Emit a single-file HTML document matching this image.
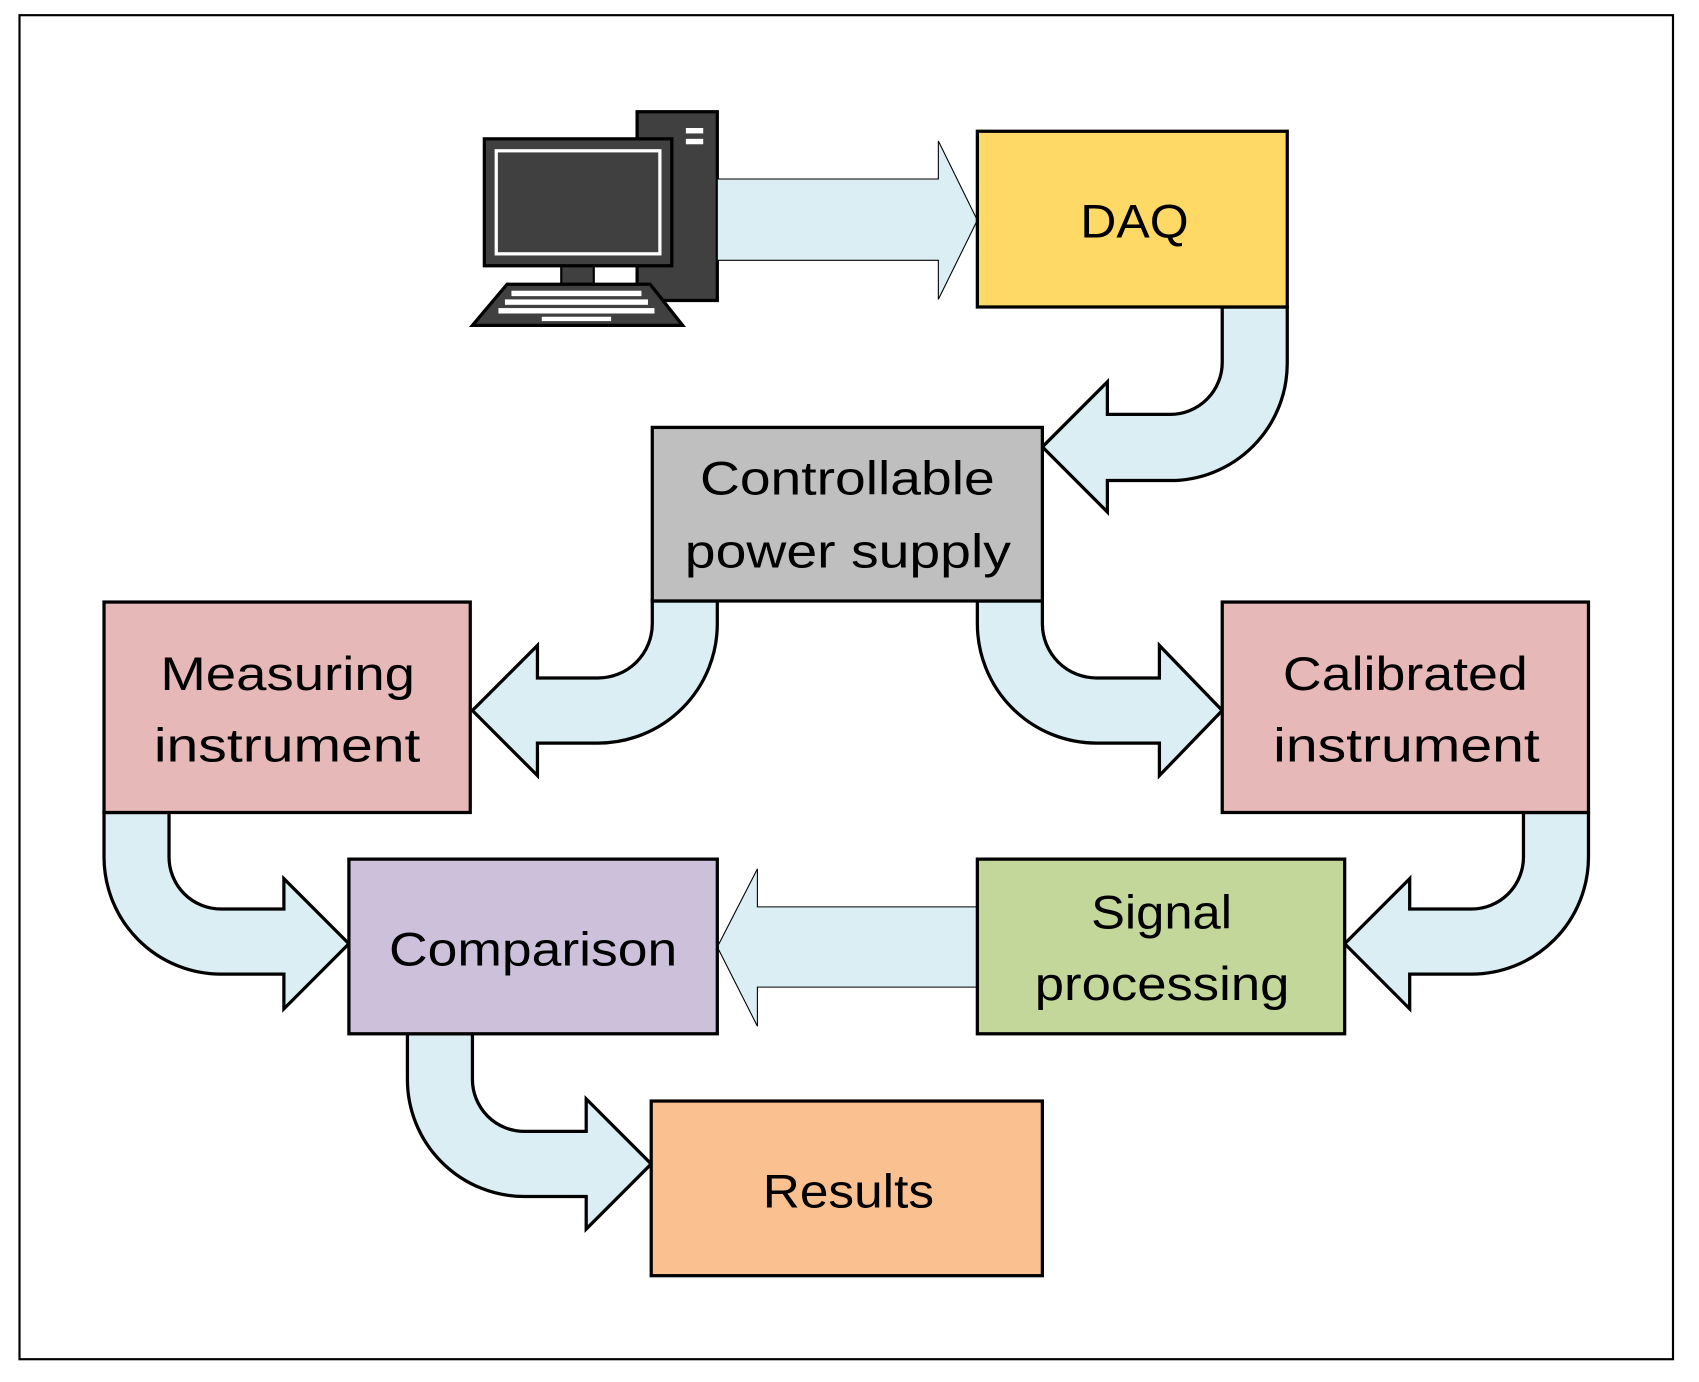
<!DOCTYPE html>
<html><head><style>html,body{margin:0;padding:0;background:#fff}svg{display:block}</style></head>
<body>
<svg width="1699" height="1382" viewBox="0 0 1568 1274" preserveAspectRatio="none" xmlns="http://www.w3.org/2000/svg">
<rect x="18" y="14" width="1526" height="1239" fill="#fff" stroke="#000" stroke-width="2"/>
<!-- computer -->
<rect x="588" y="103" width="74" height="174" fill="#404040" stroke="#000" stroke-width="3"/>
<rect x="633" y="118" width="16" height="5" fill="#fff"/>
<rect x="633" y="128" width="16" height="5" fill="#fff"/>
<rect x="518" y="243" width="30" height="20" fill="#404040" stroke="#000" stroke-width="2"/>
<rect x="447" y="128" width="173" height="117" fill="#404040" stroke="#000" stroke-width="3"/>
<rect x="458" y="139" width="151" height="95" fill="#404040" stroke="#fff" stroke-width="3"/>
<polygon points="468,262 600,262 630,300 436,300" fill="#404040" stroke="#000" stroke-width="3"/>
<g fill="#fff">
<rect x="472" y="268" width="120" height="5"/>
<rect x="466" y="276" width="132" height="5"/>
<rect x="460" y="284" width="144" height="5"/>
<rect x="500" y="292" width="64" height="4"/>
</g>
<!-- arrows -->
<g fill="#DAEEF3" stroke="#000" stroke-width="3" stroke-linejoin="miter">
<path d="M662,165 L866,165 L866,130 L902,203 L866,276 L866,240 L662,240 Z" stroke-width="1"/>
<path d="M902,836 L699,836 L699,801 L662,873 L699,946 L699,910 L902,910 Z" stroke-width="1"/>
<path d="M1188,283 L1188,335 A108,108 0 0 1 1080,443 L1022,443 L1022,472 L962,412 L1022,352 L1022,382 L1080,382 A48,48 0 0 0 1128,334 L1128,283 Z"/>
<path d="M662,554 L662,575 A110,110 0 0 1 552,685 L496,685 L496,715 L436,655 L496,595 L496,625 L552,625 A50,50 0 0 0 602,575 L602,554 Z"/>
<path d="M902,554 L902,575 A110,110 0 0 0 1012,685 L1070,685 L1070,715 L1128,655 L1070,595 L1070,625 L1012,625 A50,50 0 0 1 962,575 L962,554 Z"/>
<path d="M96,749 L96,790 A108,108 0 0 0 204,898 L262,898 L262,930 L322,870 L262,810 L262,838 L204,838 A48,48 0 0 1 156,790 L156,749 Z"/>
<path d="M1466,749 L1466,790 A108,108 0 0 1 1358,898 L1301,898 L1301,930 L1241,870 L1301,810 L1301,838 L1358,838 A48,48 0 0 0 1406,790 L1406,749 Z"/>
<path d="M376,953 L376,995 A108,108 0 0 0 484,1103 L541,1103 L541,1133 L601,1073 L541,1013 L541,1043 L484,1043 A48,48 0 0 1 436,995 L436,953 Z"/>
</g>
<!-- boxes -->
<g stroke="#000" stroke-width="3">
<rect x="902" y="121" width="286" height="162" fill="#FFD966"/>
<rect x="602" y="394" width="360" height="160" fill="#BFBFBF"/>
<rect x="96" y="555" width="338" height="194" fill="#E6B8B7"/>
<rect x="1128" y="555" width="338" height="194" fill="#E6B8B7"/>
<rect x="322" y="792" width="340" height="161" fill="#CCC0DA"/>
<rect x="902" y="792" width="339" height="161" fill="#C4D79B"/>
<rect x="601" y="1015" width="361" height="161" fill="#FAC090"/>
</g>
<g font-family="'Liberation Sans', sans-serif" font-size="44" fill="#000">
<text x="997" y="219" textLength="100" lengthAdjust="spacingAndGlyphs">DAQ</text>
<text x="646" y="456" textLength="272" lengthAdjust="spacingAndGlyphs">Controllable</text>
<text x="632" y="523" textLength="301" lengthAdjust="spacingAndGlyphs">power supply</text>
<text x="148" y="636" textLength="235" lengthAdjust="spacingAndGlyphs">Measuring</text>
<text x="142" y="702" textLength="246" lengthAdjust="spacingAndGlyphs">instrument</text>
<text x="1184" y="636" textLength="226" lengthAdjust="spacingAndGlyphs">Calibrated</text>
<text x="1175" y="702" textLength="246" lengthAdjust="spacingAndGlyphs">instrument</text>
<text x="359" y="890" textLength="266" lengthAdjust="spacingAndGlyphs">Comparison</text>
<text x="1007" y="856" textLength="130" lengthAdjust="spacingAndGlyphs">Signal</text>
<text x="955" y="922" textLength="235" lengthAdjust="spacingAndGlyphs">processing</text>
<text x="704" y="1113" textLength="158" lengthAdjust="spacingAndGlyphs">Results</text>
</g>
</svg>
</body></html>
